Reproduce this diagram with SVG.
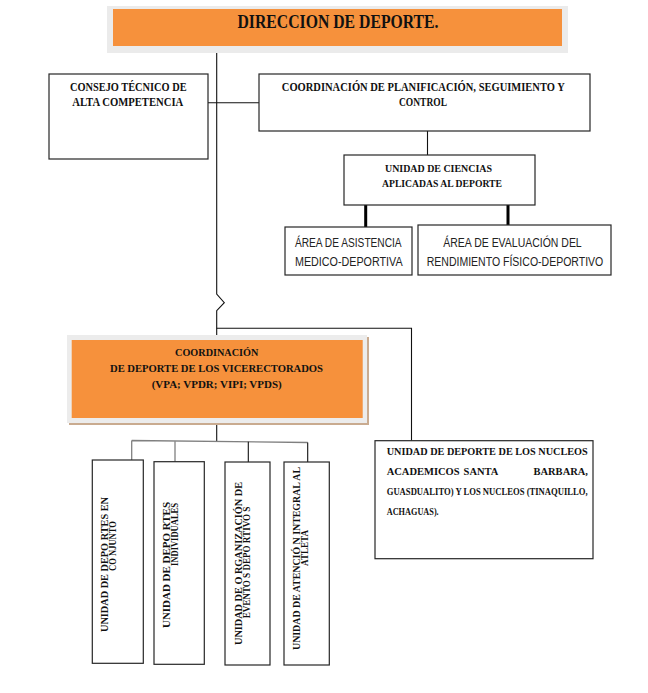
<svg xmlns="http://www.w3.org/2000/svg" width="648" height="693" viewBox="0 0 648 693">
<style>
.box{fill:#fff;stroke:#262626;stroke-width:1.2}
.t{font-family:"Liberation Serif","Times New Roman",serif;font-weight:bold;fill:#111}
.s{font-family:"Liberation Sans",Arial,sans-serif;fill:#222}
.ln{stroke:#111;stroke-width:1.1;fill:none}
.gl{stroke:#808080;stroke-width:1.3;fill:none}
.thick{stroke:#000;stroke-width:3;fill:none}
.c{text-anchor:middle}
</style>
<rect width="648" height="693" fill="#fff"/>
<g id="connectors">
<path class="ln" d="M216.7 53 V294 L224.3 302.7 L216.7 310.7 V335"/>
<path class="ln" d="M208 102.7 H259"/>
<path class="ln" d="M427.5 131 V155"/>
<path class="thick" d="M365.7 205 V227 M508 205 V225"/>
<path class="ln" d="M216.7 328.3 H411.5 V440.7"/>
<path class="ln" d="M216.7 423 V441"/>
<path class="gl" d="M131.7 440.5 L307.7 442.5 M131.7 440.5 V460 M175 441 V461.7"/>
<path class="ln" d="M248.3 441.8 V462 M307.7 442.5 V462"/>
</g>
<g id="direccion">
<rect x="107" y="6" width="461" height="47" fill="#ebebeb"/>
<rect x="113" y="9" width="449" height="37" fill="#F6913C"/>
<text class="t c" x="338" y="27.5" font-size="18.5" textLength="201" lengthAdjust="spacingAndGlyphs">DIRECCION DE DEPORTE.</text>
</g>
<g id="consejo">
<rect class="box" x="49" y="74" width="159" height="85"/>
<text class="t c" x="128.3" y="90.5" font-size="11.5" textLength="116.7" lengthAdjust="spacingAndGlyphs">CONSEJO TÉCNICO DE</text>
<text class="t c" x="127.8" y="106" font-size="11.5" textLength="111" lengthAdjust="spacingAndGlyphs">ALTA COMPETENCIA</text>
</g>
<g id="coord-planificacion">
<rect class="box" x="259" y="74" width="331" height="57"/>
<text class="t c" x="423.3" y="90.5" font-size="11.5" textLength="283" lengthAdjust="spacingAndGlyphs">COORDINACIÓN DE PLANIFICACIÓN, SEGUIMIENTO Y</text>
<text class="t c" x="423" y="106" font-size="11.5" textLength="48" lengthAdjust="spacingAndGlyphs">CONTROL</text>
</g>
<g id="unidad-ciencias">
<rect class="box" x="344" y="155" width="191" height="50"/>
<text class="t c" x="438.5" y="171.5" font-size="10.5" textLength="107" lengthAdjust="spacingAndGlyphs">UNIDAD DE CIENCIAS</text>
<text class="t c" x="442" y="186.5" font-size="10.5" textLength="120" lengthAdjust="spacingAndGlyphs">APLICADAS AL DEPORTE</text>
</g>
<g id="area-asistencia">
<rect class="box" x="285" y="227" width="127" height="48"/>
<text class="s c" x="348.3" y="247" font-size="12" textLength="106.7" lengthAdjust="spacingAndGlyphs">ÁREA DE ASISTENCIA</text>
<text class="s c" x="348.8" y="266" font-size="12" textLength="107.7" lengthAdjust="spacingAndGlyphs">MEDICO-DEPORTIVA</text>
</g>
<g id="area-evaluacion">
<rect class="box" x="418" y="225" width="193" height="50"/>
<text class="s c" x="512.5" y="246.5" font-size="12" textLength="138.4" lengthAdjust="spacingAndGlyphs">ÁREA DE EVALUACIÓN DEL</text>
<text class="s c" x="515" y="265.5" font-size="12" textLength="176.6" lengthAdjust="spacingAndGlyphs">RENDIMIENTO FÍSICO-DEPORTIVO</text>
</g>
<g id="coord-deporte">
<rect x="69" y="337" width="300" height="88" fill="#c9ab90"/>
<rect x="67" y="335" width="300" height="88" fill="#ececec"/>
<rect x="71.7" y="340" width="291" height="78" fill="#F6913C"/>
<text class="t c" x="216.7" y="355.7" font-size="11" textLength="83.3" lengthAdjust="spacingAndGlyphs">COORDINACIÓN</text>
<text class="t c" x="216.5" y="371.7" font-size="11" textLength="213" lengthAdjust="spacingAndGlyphs">DE DEPORTE DE LOS VICERECTORADOS</text>
<text class="t c" x="216.7" y="388" font-size="11" textLength="130" lengthAdjust="spacingAndGlyphs">(VPA; VPDR; VIPI; VPDS)</text>
</g>
<g id="unidad-conjunto">
<rect class="box" x="92.3" y="460" width="51" height="203.3"/>
<text class="t" transform="translate(108.3 632) rotate(-90)" font-size="10" textLength="135" lengthAdjust="spacingAndGlyphs">UNIDAD DE DEPO RTES EN</text>
<text class="t" transform="translate(116 571) rotate(-90)" font-size="10" textLength="50" lengthAdjust="spacingAndGlyphs">CO NJUNTO</text>
</g>
<g id="unidad-individuales">
<rect class="box" x="154" y="461.7" width="50.3" height="202.6"/>
<text class="t" transform="translate(170 628) rotate(-90)" font-size="10" textLength="126" lengthAdjust="spacingAndGlyphs">UNIDAD DE DEPO RTES</text>
<text class="t" transform="translate(177.7 566) rotate(-90)" font-size="10" textLength="63" lengthAdjust="spacingAndGlyphs">INDIVIDUALES</text>
</g>
<g id="unidad-eventos">
<rect class="box" x="225" y="462" width="45" height="203"/>
<text class="t" transform="translate(241.7 645) rotate(-90)" font-size="10" textLength="163" lengthAdjust="spacingAndGlyphs">UNIDAD DE O RGANIZACIÓN DE</text>
<text class="t" transform="translate(250 618.3) rotate(-90)" font-size="10" textLength="111.7" lengthAdjust="spacingAndGlyphs">EVENTO S DEPO RTIVO S</text>
</g>
<g id="unidad-atencion">
<rect class="box" x="284" y="462" width="45.3" height="203"/>
<text class="t" transform="translate(300 650) rotate(-90)" font-size="10" textLength="183" lengthAdjust="spacingAndGlyphs">UNIDAD DE ATENCIÓ N INTEGRAL AL</text>
<text class="t" transform="translate(308.3 566) rotate(-90)" font-size="10" textLength="36" lengthAdjust="spacingAndGlyphs">ATLETA</text>
</g>
<g id="unidad-nucleos">
<rect class="box" x="375" y="440.7" width="218" height="118"/>
<text class="t" x="386.7" y="455" font-size="10.5" textLength="201" lengthAdjust="spacingAndGlyphs">UNIDAD DE DEPORTE DE LOS NUCLEOS</text>
<text class="t" y="475" font-size="10.5"><tspan x="386.7">ACADEMICOS </tspan><tspan x="482" text-anchor="middle">SANTA </tspan><tspan x="588" text-anchor="end">BARBARA,</tspan></text>
<text class="t" x="386.7" y="495" font-size="10.5" textLength="201" lengthAdjust="spacingAndGlyphs">GUASDUALITO) Y LOS NUCLEOS (TINAQUILLO,</text>
<text class="t" x="386.7" y="515" font-size="10.5" textLength="52" lengthAdjust="spacingAndGlyphs">ACHAGUAS).</text>
</g>
</svg>
